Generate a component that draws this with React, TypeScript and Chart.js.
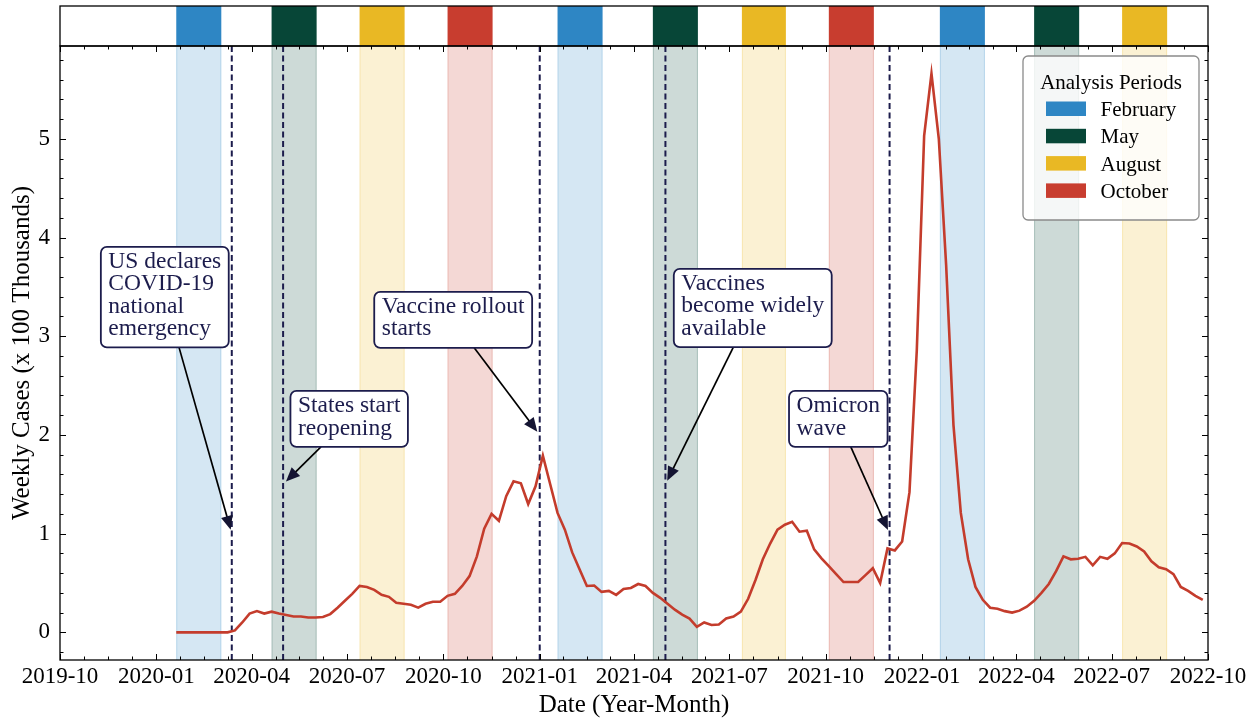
import React, { useEffect, useRef } from 'react';
import { Chart, registerables } from 'chart.js';

Chart.register(...registerables);

// ---------------- data ----------------
const X_TICK_LABELS = ['2019-10', '2020-01', '2020-04', '2020-07', '2020-10', '2021-01', '2021-04', '2021-07', '2021-10', '2022-01', '2022-04', '2022-07', '2022-10'];
const Y_TICK_VALUES = [0, 1, 2, 3, 4, 5];
const Y_MIN = -0.28;
const Y_MAX = 5.94;

const SERIES_START = '2020-01-20';
// weekly cases (x 100 thousands), one value per week
const WEEKLY_CASES = [
  0, 0, 0, 0, 0, 0, 0, 0, 0.02, 0.10,
  0.19, 0.215, 0.19, 0.21, 0.19, 0.175, 0.16, 0.16, 0.15, 0.15,
  0.155, 0.185, 0.25, 0.32, 0.39, 0.47, 0.46, 0.43, 0.38, 0.36,
  0.30, 0.29, 0.28, 0.25, 0.29, 0.31, 0.31, 0.37, 0.39, 0.47,
  0.57, 0.77, 1.05, 1.20, 1.13, 1.38, 1.53, 1.51, 1.30, 1.48,
  1.79, 1.50, 1.21, 1.04, 0.81, 0.64, 0.47, 0.475, 0.41, 0.42,
  0.38, 0.44, 0.45, 0.49, 0.47, 0.40, 0.35, 0.29, 0.23, 0.18,
  0.14, 0.055, 0.10, 0.075, 0.08, 0.14, 0.16, 0.21, 0.34, 0.53,
  0.74, 0.90, 1.04, 1.09, 1.12, 1.02, 1.03, 0.84, 0.75, 0.67,
  0.59, 0.51, 0.51, 0.51, 0.58, 0.65, 0.50, 0.85, 0.83, 0.92,
  1.42, 2.86, 5.03, 5.66, 5.0, 3.72, 2.10, 1.21, 0.74, 0.46,
  0.33, 0.25, 0.24, 0.215, 0.20, 0.22, 0.26, 0.32, 0.40, 0.49,
  0.62, 0.77, 0.74, 0.745, 0.765, 0.68, 0.765, 0.745, 0.80, 0.905,
  0.90, 0.87, 0.82, 0.72, 0.66, 0.64, 0.59, 0.46, 0.42, 0.37,
  0.33,
];

const PERIOD_NAMES = ['February', 'May', 'August', 'October'];
const PERIOD_COLORS = ['#2E86C4', '#074637', '#E9B824', '#C83D2F'];
const BAND_STARTS = ['2020-01-20', '2020-04-20', '2020-07-13', '2020-10-05', '2021-01-18', '2021-04-19', '2021-07-13', '2021-10-04', '2022-01-18', '2022-04-18', '2022-07-11'];
const BAND_ENDS = ['2020-03-03', '2020-06-02', '2020-08-25', '2020-11-17', '2021-03-02', '2021-06-01', '2021-08-24', '2021-11-16', '2022-03-02', '2022-05-31', '2022-08-23'];
const BAND_PERIOD = [0, 1, 2, 3, 0, 1, 2, 3, 0, 1, 2];

const EVENT_DATES = ['2020-03-13', '2020-05-01', '2021-01-01', '2021-05-01', '2021-12-01'];
const EVENT_TEXTS = [
  ['US declares', 'COVID-19', 'national', 'emergency'],
  ['States start', 'reopening'],
  ['Vaccine rollout', 'starts'],
  ['Vaccines', 'become widely', 'available'],
  ['Omicron', 'wave'],
];
const EVENT_ARROW_Y = [1.0, 1.5, 2.0, 1.5, 1.0];
const EVENT_BOX_DATES = ['2019-11-09', '2020-05-08', '2020-07-27', '2021-05-09', '2021-08-27'];
const EVENT_BOX_Y = [3.905, 2.446, 3.449, 3.682, 2.446];

// ---------------- styles ----------------
const LINE_COLOR = '#C43C2C';
const NAVY = '#1C1C4C';
const FONT = '"Liberation Serif", "Times New Roman", serif';

const DAY = 86400000;
const toDay = (s: string) => {
  const p = s.split('-').map(Number);
  return Date.UTC(p[0], p[1] - 1, p[2] || 1) / DAY;
};

const STRIP_TOP = 6;

const overlayPlugin = {
  id: 'overlay',
  beforeDatasetsDraw(chart: any) {
    const { ctx, chartArea: a } = chart;
    const xs = chart.scales.x;
    ctx.save();
    BAND_STARTS.forEach((s, i) => {
      const x0 = xs.getPixelForValue(toDay(s));
      const x1 = xs.getPixelForValue(toDay(BAND_ENDS[i]));
      const col = PERIOD_COLORS[BAND_PERIOD[i]];
      ctx.fillStyle = col;
      ctx.strokeStyle = col;
      ctx.globalAlpha = 0.2;
      ctx.fillRect(x0, a.top, x1 - x0, a.bottom - a.top);
      ctx.globalAlpha = 0.2;
      ctx.lineWidth = 1;
      ctx.beginPath();
      ctx.moveTo(x0 + 0.5, a.top); ctx.lineTo(x0 + 0.5, a.bottom);
      ctx.moveTo(x1 - 0.5, a.top); ctx.lineTo(x1 - 0.5, a.bottom);
      ctx.stroke();
      // top strip block
      ctx.globalAlpha = 1;
      ctx.fillRect(x0, STRIP_TOP, x1 - x0, a.top - STRIP_TOP);
    });
    ctx.globalAlpha = 1;
    // dashed event lines
    ctx.strokeStyle = NAVY;
    ctx.lineWidth = 2;
    ctx.setLineDash([6, 3.5]);
    EVENT_DATES.forEach((d) => {
      const x = xs.getPixelForValue(toDay(d));
      ctx.beginPath();
      ctx.moveTo(x, a.top);
      ctx.lineTo(x, a.bottom);
      ctx.stroke();
    });
    ctx.restore();
  },
  afterDraw(chart: any) {
    const { ctx, chartArea: a } = chart;
    const xs = chart.scales.x;
    const ys = chart.scales.y;
    ctx.save();
    // spines
    ctx.strokeStyle = '#000';
    ctx.lineWidth = 1.3;
    ctx.strokeRect(a.left, a.top, a.right - a.left, a.bottom - a.top);
    ctx.strokeRect(a.left, STRIP_TOP, a.right - a.left, a.top - STRIP_TOP);

    // inward ticks
    ctx.lineWidth = 1;
    const majorX = X_TICK_LABELS.map((l) => toDay(l + '-01'));
    const minorX: number[] = [];
    for (let i = 0; i < majorX.length - 1; i++) {
      for (let j = 1; j < 4; j++) minorX.push(majorX[i] + ((majorX[i + 1] - majorX[i]) * j) / 4);
    }
    const tickX = (v: number, len: number) => {
      const x = Math.round(xs.getPixelForValue(v)) + 0.5;
      ctx.beginPath();
      ctx.moveTo(x, a.bottom); ctx.lineTo(x, a.bottom - len);
      ctx.moveTo(x, a.top); ctx.lineTo(x, a.top + len);
      ctx.stroke();
    };
    majorX.forEach((v) => tickX(v, 6));
    minorX.forEach((v) => tickX(v, 3.5));
    const tickY = (v: number, len: number) => {
      const y = Math.round(ys.getPixelForValue(v)) + 0.5;
      ctx.beginPath();
      ctx.moveTo(a.left, y); ctx.lineTo(a.left + len, y);
      ctx.moveTo(a.right, y); ctx.lineTo(a.right - len, y);
      ctx.stroke();
    };
    Y_TICK_VALUES.forEach((v) => tickY(v, 6));
    for (let k = Math.ceil(Y_MIN / 0.2); k * 0.2 <= Y_MAX; k++) {
      if (k % 5 !== 0) tickY(k * 0.2, 3.5);
    }

    // annotations
    ctx.font = `23.5px ${FONT}`;
    const lineH = 22.3;
    EVENT_TEXTS.forEach((lines, i) => {
      const bx = xs.getPixelForValue(toDay(EVENT_BOX_DATES[i]));
      const by = ys.getPixelForValue(EVENT_BOX_Y[i]);
      const tw = Math.max(...lines.map((l) => ctx.measureText(l).width));
      const bw = tw + 15;
      const bh = 33.6 + (lines.length - 1) * lineH;
      const tx = xs.getPixelForValue(toDay(EVENT_DATES[i]));
      const ty = ys.getPixelForValue(EVENT_ARROW_Y[i]);
      const cx = bx + bw / 2, cy = by + bh / 2;
      const dx = tx - cx, dy = ty - cy;
      let t = 1;
      if (dx !== 0) t = Math.min(t, ((dx > 0 ? bx + bw : bx) - cx) / dx);
      if (dy !== 0) t = Math.min(t, ((dy > 0 ? by + bh : by) - cy) / dy);
      const sx = cx + dx * t, sy = cy + dy * t;
      const L = Math.hypot(tx - sx, ty - sy);
      const ux = (tx - sx) / L, uy = (ty - sy) / L;
      const shrink = 4;
      const hx = tx - ux * shrink, hy = ty - uy * shrink;
      const headLen = 14, headW = 6;
      ctx.strokeStyle = '#000';
      ctx.lineWidth = 1.7;
      ctx.setLineDash([]);
      ctx.beginPath();
      ctx.moveTo(sx, sy);
      ctx.lineTo(hx - ux * headLen * 0.8, hy - uy * headLen * 0.8);
      ctx.stroke();
      ctx.fillStyle = '#141432';
      ctx.beginPath();
      ctx.moveTo(hx, hy);
      ctx.lineTo(hx - ux * headLen - uy * headW, hy - uy * headLen + ux * headW);
      ctx.lineTo(hx - ux * headLen + uy * headW, hy - uy * headLen - ux * headW);
      ctx.closePath();
      ctx.fill();
      // box
      ctx.beginPath();
      ctx.roundRect(bx, by, bw, bh, 6);
      ctx.fillStyle = '#fff';
      ctx.fill();
      ctx.strokeStyle = NAVY;
      ctx.lineWidth = 1.8;
      ctx.stroke();
      ctx.fillStyle = NAVY;
      ctx.textAlign = 'left';
      ctx.textBaseline = 'alphabetic';
      lines.forEach((l, j) => ctx.fillText(l, bx + 7.5, by + 21.3 + j * lineH));
    });

    // legend
    const lw = 176, lh = 164;
    const lx = a.right - 9 - lw, ly = a.top + 10;
    ctx.beginPath();
    ctx.roundRect(lx, ly, lw, lh, 5);
    ctx.fillStyle = 'rgba(255,255,255,0.8)';
    ctx.fill();
    ctx.strokeStyle = '#8a8a8a';
    ctx.lineWidth = 1.3;
    ctx.stroke();
    ctx.font = `21px ${FONT}`;
    ctx.fillStyle = '#000';
    ctx.textAlign = 'center';
    ctx.fillText('Analysis Periods', lx + lw / 2, ly + 33);
    ctx.textAlign = 'left';
    PERIOD_NAMES.forEach((n, i) => {
      const base = ly + 60 + i * 27.3;
      ctx.fillStyle = PERIOD_COLORS[i];
      ctx.fillRect(lx + 23, base - 14.5, 40, 14.5);
      ctx.fillStyle = '#000';
      ctx.fillText(n, lx + 77.5, base);
    });
    ctx.restore();
  },
};

export default function App() {
  const ref = useRef<HTMLCanvasElement>(null);
  useEffect(() => {
    document.body.style.margin = '0';
    document.body.style.overflow = 'hidden';
    const canvas = ref.current!;
    const xTicks = X_TICK_LABELS.map((l) => toDay(l + '-01'));
    const start = toDay(SERIES_START);
    const points = WEEKLY_CASES.map((v, i) => ({ x: start + 7 * i, y: v }));
    const chart = new Chart(canvas, {
      type: 'line',
      data: {
        datasets: [
          {
            data: points,
            borderColor: LINE_COLOR,
            borderWidth: 2.6,
            pointRadius: 0,
            tension: 0,
            fill: false,
          },
        ],
      },
      options: {
        animation: false,
        responsive: false,
        devicePixelRatio: 1,
        layout: { padding: { left: 0, right: 51, top: 46, bottom: 0 } },
        plugins: { legend: { display: false }, tooltip: { enabled: false } },
        scales: {
          x: {
            type: 'linear',
            min: xTicks[0],
            max: xTicks[xTicks.length - 1],
            afterBuildTicks: (s: any) => {
              s.ticks = xTicks.map((v) => ({ value: v }));
            },
            afterFit: (s: any) => {
              s.height = 59;
            },
            grid: { display: false, drawTicks: false },
            border: { display: false },
            ticks: {
              autoSkip: false,
              maxRotation: 0,
              minRotation: 0,
              padding: 3,
              color: '#000',
              font: { family: FONT, size: 23 },
              callback: (_v: any, i: number) => X_TICK_LABELS[i],
            },
            title: {
              display: true,
              text: 'Date (Year-Month)',
              color: '#000',
              font: { family: FONT, size: 25 },
              padding: { top: 0, bottom: -1 },
            },
          },
          y: {
            type: 'linear',
            min: Y_MIN,
            max: Y_MAX,
            afterBuildTicks: (s: any) => {
              s.ticks = Y_TICK_VALUES.map((v) => ({ value: v }));
            },
            afterFit: (s: any) => {
              s.width = 60;
            },
            grid: { display: false, drawTicks: false },
            border: { display: false },
            ticks: {
              padding: 10,
              color: '#000',
              font: { family: FONT, size: 23 },
              callback: (v: any) => String(v),
            },
            title: {
              display: true,
              text: 'Weekly Cases (x 100 Thousands)',
              color: '#000',
              font: { family: FONT, size: 25 },
              padding: { top: 7, bottom: 0 },
            },
          },
        },
      },
      plugins: [overlayPlugin],
    } as any);
    return () => chart.destroy();
  }, []);
  return <canvas ref={ref} width={1259} height={719} style={{ display: 'block' }} />;
}
